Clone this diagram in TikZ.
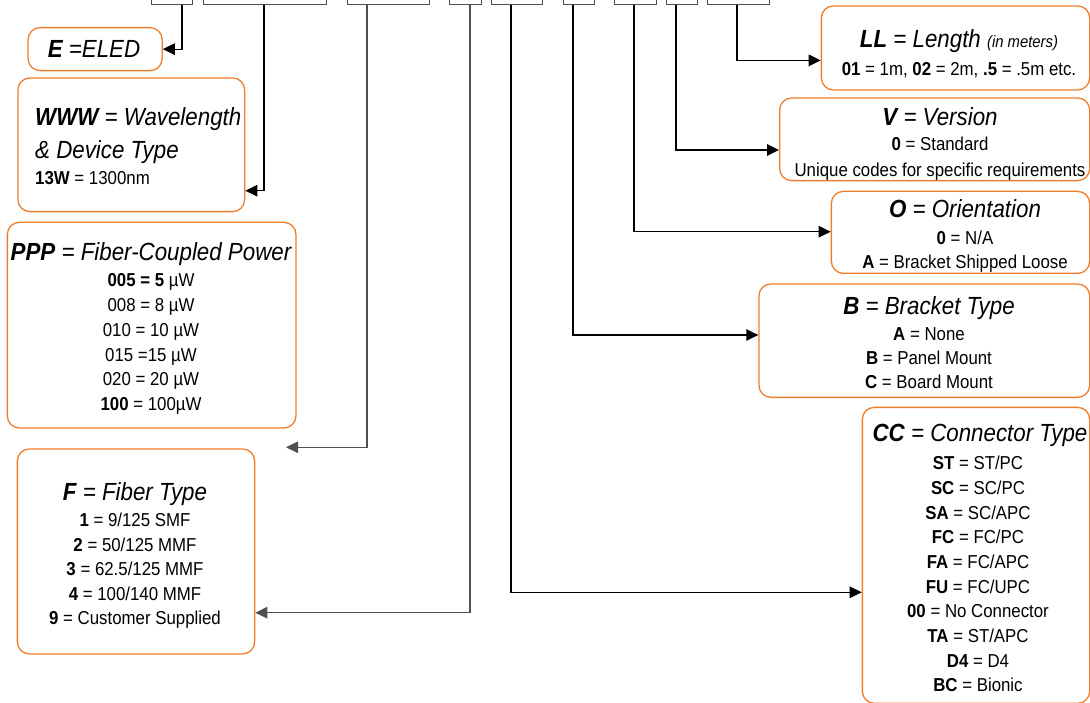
\documentclass[tikz,border=0pt]{standalone}
\usepackage{fontspec}
\setmainfont{Liberation Sans}[FakeStretch=0.9]
\usetikzlibrary{arrows.meta}
\definecolor{boxorange}{HTML}{F07D2C}
\definecolor{codegray}{HTML}{505050}
\newcommand{\ttlfont}{\fontsize{24.8}{28}\selectfont\itshape}
\newcommand{\bdyfont}{\fontsize{18.7}{22}\selectfont}
\newcommand{\smlfont}{\fontsize{16.5}{20}\selectfont\itshape}
\begin{document}
\begin{tikzpicture}[x=1pt,y=-1pt,
  descbox/.style={draw=boxorange, line width=1.3pt, rounded corners=12pt, anchor=north west, inner sep=0pt},
  codebox/.style={draw=codegray, line width=1.3pt, anchor=south west, inner sep=0pt, minimum height=30pt},
  conn/.style={draw=black, line width=1.2pt, -{Triangle[length=12pt,width=11.5pt]}},
  ttl/.style={font=\ttlfont, inner sep=0pt, anchor=base, yshift=-8.9pt},
  bdy/.style={font=\bdyfont, inner sep=0pt, anchor=base, yshift=-6.7pt},
]
\useasboundingbox (0,0) rectangle (1090,703);
\clip (0,0) rectangle (1090,703);

% code boxes along the top
\node[codebox, minimum width=41pt]  (c1) at (151,5.3) {};
\node[codebox, minimum width=123pt] (c2) at (203,5.3) {};
\node[codebox, minimum width=82pt]  (c3) at (347,5.3) {};
\node[codebox, minimum width=32pt]  (c4) at (449,5.3) {};
\node[codebox, minimum width=51pt]  (c5) at (491,5.3) {};
\node[codebox, minimum width=31pt]  (c6) at (563,5.3) {};
\node[codebox, minimum width=42pt]  (c7) at (614,5.3) {};
\node[codebox, minimum width=31pt]  (c8) at (666,5.3) {};
\node[codebox, minimum width=62pt]  (c9) at (707,5.3) {};

% description boxes
\node[descbox, minimum width=134.1pt, minimum height=43pt]    (be)  at (27.4,27) {};
\node[descbox, minimum width=226.7pt, minimum height=133.7pt] (bw)  at (17.3,77.3) {};
\node[descbox, minimum width=288.6pt, minimum height=205.6pt] (bp)  at (6.7,221.7) {};
\node[descbox, minimum width=237.3pt, minimum height=205pt]   (bf)  at (16.7,448.3) {};
\node[descbox, minimum width=268.3pt, minimum height=84pt]    (bll) at (820.7,5.3) {};
\node[descbox, minimum width=310pt,   minimum height=82.7pt]  (bv)  at (779,97.3) {};
\node[descbox, minimum width=258.3pt, minimum height=82pt]    (bo)  at (830.7,190.7) {};
\node[descbox, minimum width=330.7pt, minimum height=113.4pt] (bb)  at (758.3,283.3) {};
\node[descbox, minimum width=227.3pt, minimum height=296pt]   (bcc) at (861.7,406.7) {};

% E
\node[ttl] (et) at (94,48.5) {\textbf{E} =ELED};
% WWW
\node[ttl, anchor=base west] (wt1) at (35,116.7) {\textbf{WWW} = Wavelength};
\node[ttl, anchor=base west] (wt2) at (35,150) {\& Device Type};
\node[bdy, anchor=base west] (wb1) at (35,178) {\textbf{13W} = 1300nm};
% PPP
\node[ttl] (pt) at (151,251.7) {\textbf{PPP} = Fiber-Coupled Power};
\foreach \t [count=\i from 0] in {{\textbf{005 = 5} µW},{008 = 8 µW},{010 = 10 µW},{015 =15 µW},{020 = 20 µW},{\textbf{100} = 100µW}}
  \node[bdy] (pb\i) at (151,{280+24.8*\i}) {\t};
% F
\node[ttl] (ft) at (135,491.7) {\textbf{F} = Fiber Type};
\foreach \t [count=\i from 0] in {{\textbf{1} = 9/125 SMF},{\textbf{2} = 50/125 MMF},{\textbf{3} = 62.5/125 MMF},{\textbf{4} = 100/140 MMF},{\textbf{9} = Customer Supplied}}
  \node[bdy] (fb\i) at (135,{520+24.5*\i}) {\t};
% LL
\node[ttl] (lt) at (959,38.6) {\textbf{LL} = Length {\smlfont (in meters)}};
\node[bdy] (lb) at (959,69) {\textbf{01} = 1m, \textbf{02} = 2m, \textbf{.5} = .5m etc.};
% V
\node[ttl] (vt) at (940,116.7) {\textbf{V} = Version};
\node[bdy] (vb1) at (940,144) {\textbf{0} = Standard};
\node[bdy] (vb2) at (940,170) {Unique codes for specific requirements};
% O
\node[ttl] (ot) at (965,209) {\textbf{O} = Orientation};
\node[bdy] (ob1) at (965,238) {\textbf{0} = N/A};
\node[bdy] (ob2) at (965,261.7) {\textbf{A} = Bracket Shipped Loose};
% B
\node[ttl] (btt) at (929,306) {\textbf{B} = Bracket Type};
\node[bdy] (bb1) at (929,334) {\textbf{A} = None};
\node[bdy] (bb2) at (929,358.3) {\textbf{B} = Panel Mount};
\node[bdy] (bb3) at (929,381.7) {\textbf{C} = Board Mount};
% CC
\node[ttl] (cct) at (980,433) {\textbf{CC} = Connector Type};
\foreach \t [count=\i from 0] in {{\textbf{ST} = ST/PC},{\textbf{SC} = SC/PC},{\textbf{SA} = SC/APC},{\textbf{FC} = FC/PC},{\textbf{FA} = FC/APC},{\textbf{FU} = FC/UPC},{\textbf{00} = No Connector},{\textbf{TA} = ST/APC},{\textbf{D4} = D4},{\textbf{BC} = Bionic}}
  \node[bdy] (cb\i) at (978,{463+24.67*\i}) {\t};

% connectors
\coordinate (pend) at (286,447.3);
\draw[conn] ([xshift=31pt]c1.south west) |- (be.east);
\draw[conn] ([xshift=61pt]c2.south west) |- ([yshift=-113.4pt]bw.north east);
\draw[conn, draw=codegray] ([xshift=20pt]c3.south west) |- (pend);
\draw[conn, draw=codegray] ([xshift=21pt]c4.south west) |- ([yshift=-164.4pt]bf.north east);
\draw[conn] ([xshift=20pt]c5.south west) |- ([yshift=-185.6pt]bcc.north west);
\draw[conn] ([xshift=10pt]c6.south west) |- ([yshift=-51.7pt]bb.north west);
\draw[conn] ([xshift=20pt]c7.south west) |- ([yshift=-41pt]bo.north west);
\draw[conn] ([xshift=10pt]c8.south west) |- ([yshift=-52.7pt]bv.north west);
\draw[conn] ([xshift=30pt]c9.south west) |- ([yshift=-55.1pt]bll.north west);
\end{tikzpicture}
\end{document}
